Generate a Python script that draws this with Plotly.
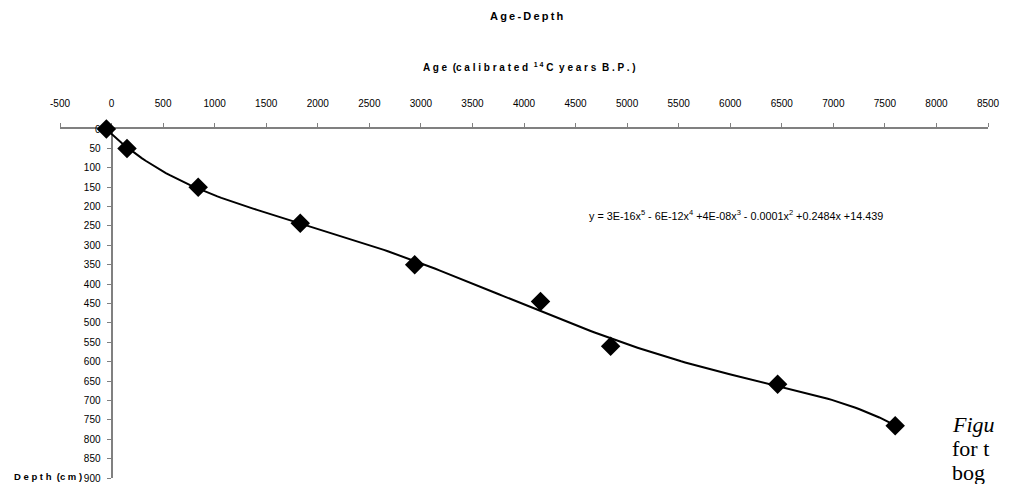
import numpy as np
import plotly.graph_objects as go

# ---- data ----
age = [-50, 150, 840, 1830, 2940, 4160, 4840, 6460, 7600]      # calibrated 14C years B.P.
depth = [0, 50, 150, 243, 350, 445, 560, 658, 765]              # cm

x_ticks = list(range(-500, 8501, 500))
y_ticks = list(range(0, 901, 50))

title_text = "Age-Depth"
y_title = "Depth (cm)"
equation = ("y = 3E-16x<sup>5</sup> - 6E-12x<sup>4</sup> +4E-08x<sup>3</sup> "
            "- 0.0001x<sup>2</sup> +0.2484x +14.439")
side_text = ["<i>Figu</i>", "for t", "bog"]

# polynomial (order 5) trendline fitted to the data points, as in the original chart
coef = np.polyfit(age, depth, 5)
trend_x = np.linspace(min(age), max(age), 200)
trend_y = np.polyval(coef, trend_x)

W, H = 1017, 484
L, R, T, B = 60, 29, 129, 6
pw, ph = W - L - R, H - T - B


def px(xp):
    return (xp - L) / pw


def py(yp):
    return (H - B - yp) / ph


def spaced(s, sep=" "):
    return sep.join(list(s))


FONT = "Liberation Sans, Arial, sans-serif"
SERIF = "Liberation Serif, Times New Roman, serif"
GREY = "#808080"
NB = "\u00a0"

fig = go.Figure()
fig.add_trace(go.Scatter(x=trend_x, y=trend_y, mode="lines",
                         line=dict(color="black", width=2), hoverinfo="skip",
                         showlegend=False))
fig.add_trace(go.Scatter(x=age, y=depth, mode="markers",
                         marker=dict(symbol="diamond", size=15, color="black"),
                         cliponaxis=False, showlegend=False))

fig.update_layout(
    width=W, height=H,
    margin=dict(l=L, r=R, t=T, b=B, autoexpand=False),
    paper_bgcolor="white", plot_bgcolor="white",
    font=dict(family=FONT, size=10, color="black"),
    showlegend=False,
    xaxis=dict(range=[-500, 8500], side="top", tickmode="array",
               tickvals=x_ticks, ticktext=[str(v) for v in x_ticks],
               showgrid=False, zeroline=False, showline=True,
               linecolor=GREY, linewidth=2, ticks="outside", ticklen=4,
               tickcolor=GREY, tickwidth=1, ticklabelstandoff=12,
               tickfont=dict(size=10, family=FONT), layer="below traces"),
    yaxis=dict(range=[900, 0], anchor="free", position=500 / 9000,
               tickmode="array", tickvals=y_ticks,
               ticktext=[str(v) for v in y_ticks],
               showgrid=False, zeroline=False, showline=True,
               linecolor=GREY, linewidth=2, ticks="outside", ticklen=4,
               tickcolor=GREY, tickwidth=1, ticklabelstandoff=4,
               tickfont=dict(size=10, family=FONT), layer="below traces"),
)

x_title_html = ("<b>" + spaced("Age") + " " + NB + "(" + spaced("calibrated") + " " + NB
                + "<sup>1 4</sup> C " + NB + spaced("years") + " " + NB + spaced("B.P.)") + "</b>")
y_title_html = "<b>" + spaced("Depth") + " " + NB + "(" + spaced("cm)") + "</b>"

ann = [
    dict(text="<b>" + spaced(title_text, "\u2009") + "</b>", x=px(527), y=py(16),
         font=dict(size=11, family=FONT)),
    dict(text=x_title_html, x=px(529), y=py(67), font=dict(size=10, family=FONT)),
    dict(text=y_title_html, x=px(84), y=py(476), xanchor="right",
         font=dict(size=9.5, family=FONT)),
    dict(text=equation, x=px(736), y=py(215), font=dict(size=10.8, family=FONT)),
]
for i, t in enumerate(side_text):
    ann.append(dict(text=t, x=px(950), y=py(424 + 24 * i), xanchor="left",
                    font=dict(size=22, family=SERIF)))
for a in ann:
    a.update(xref="paper", yref="paper", showarrow=False)
    a.setdefault("xanchor", "center")
    a.setdefault("yanchor", "middle")
fig.update_layout(annotations=ann)

fig.write_html("out.html", config={"displayModeBar": False},
               post_script="document.body.style.margin='0';")
